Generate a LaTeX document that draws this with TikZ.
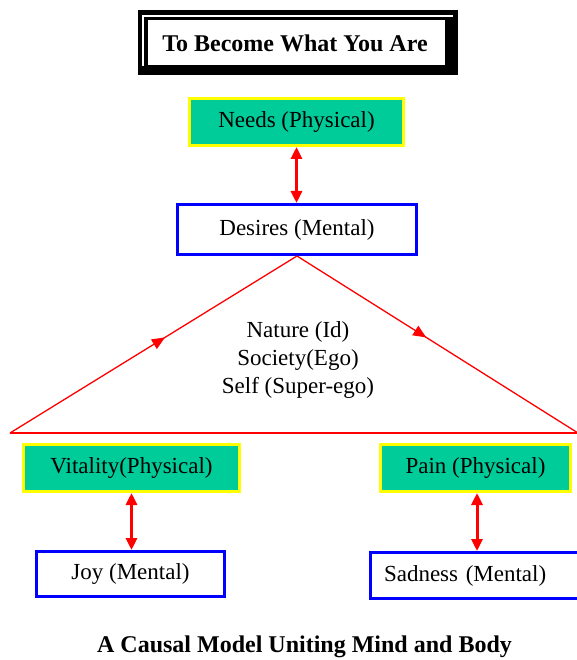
\documentclass[tikz,border=0pt]{standalone}
\usepackage{fontspec}
\setmainfont{Liberation Serif}
\usetikzlibrary{arrows.meta,decorations.markings,calc}

\definecolor{bodyfill}{RGB}{0,204,153}
\definecolor{bodyedge}{RGB}{255,255,0}
\definecolor{mindedge}{RGB}{0,0,255}
\definecolor{linkred}{RGB}{255,0,0}

\tikzset{
  x=1pt, y=-1pt,
  boxtext/.style={font=\fontsize{23}{27}\selectfont, inner sep=0pt},
  physbox/.style={boxtext, rectangle, fill=bodyfill, draw=bodyedge, line width=3pt},
  mentbox/.style={boxtext, rectangle, fill=white, draw=mindedge, line width=3pt},
  biarrow/.style={draw=linkred, line width=3pt,
    {Triangle[length=12pt,width=11pt]}-{Triangle[length=12pt,width=11pt]}},
  tribase/.style={draw=linkred, line width=1.3pt},
  midarrow/.style={tribase, decoration={markings,
    mark=at position #1 with {\arrow{Triangle[length=13pt,width=11pt]}}},
    postaction={decorate}},
  boldcap/.style={font=\fontsize{24}{28}\selectfont\bfseries, inner sep=0pt}
}

\begin{document}
\begin{tikzpicture}
\useasboundingbox (0,0) rectangle (576,660);
\fill[white] (0,0) rectangle (576,660);

% framed title
\fill[black] (138,10) rectangle (458,75);
\draw[white, line width=2pt] (143,66) -- (143,16) -- (453,16);
\fill[white] (147.5,20) rectangle (445,65);
\node[boldcap] (title) at (295,43) {To Become What You Are};

% top pair
\node[physbox, minimum width=214pt, minimum height=47pt] (needs) at (296.5,122) {Needs (Physical)};
\node[mentbox, minimum width=239pt, minimum height=50pt] (desires) at (297,229.5) {Desires (Mental)};
\draw[biarrow] (needs.south) -- (needs.south |- desires.north);

% triangle of forces
\coordinate (apex) at (desires.south);
\coordinate (lbase) at (10,433);
\coordinate (rbase) at (578,433);
\draw[midarrow=0.54] (lbase) -- (apex);
\draw[midarrow=0.46] (apex) -- (rbase);
\draw[tribase] (lbase) -- (rbase);
\node[font=\fontsize{23}{27.5}\selectfont, align=center, inner sep=0pt] (forces) at (298,360)
  {Nature (Id)\\Society(Ego)\\Self (Super-ego)};

% lower left pair
\node[physbox, minimum width=216pt, minimum height=47pt] (vitality) at (131.5,468) {Vitality(Physical)};
\node[mentbox, minimum width=188pt, minimum height=45pt] (joy) at (130.5,574) {Joy (Mental)};
\draw[biarrow] (vitality.south) -- (vitality.south |- joy.north);

% lower right pair
\node[physbox, minimum width=190pt, minimum height=47pt] (pain) at (475.5,468) {Pain (Physical)};
\node[mentbox, anchor=west, minimum height=46pt, inner xsep=14pt, text width=240pt, align=left] (sadness) at (368.5,575.5) {Sadness (Mental)};
\draw[biarrow] ([xshift=1.5pt]pain.south) -- ([xshift=1.5pt]pain.south |- sadness.north);

% caption
\node[boldcap, anchor=base] (caption) at (304.5,652) {A Causal Model Uniting Mind and Body};
\end{tikzpicture}
\end{document}
